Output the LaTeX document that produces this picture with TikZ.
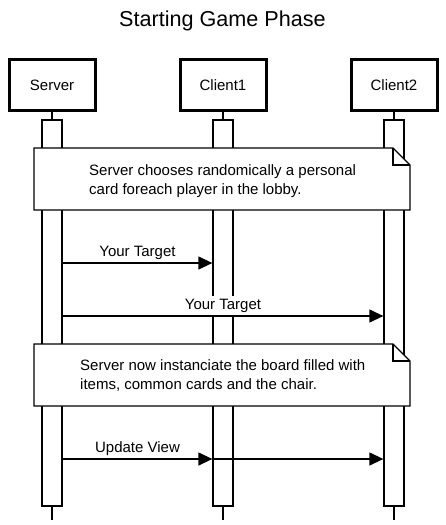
\documentclass[tikz,border=0pt]{standalone}
\usepackage{fontspec}
\setmainfont{Liberation Sans}
\usetikzlibrary{arrows.meta}
\tikzset{>={Triangle[length=14pt,width=13pt]}}
\tikzset{
  actor/.style={draw,line width=3pt,minimum width=86pt,minimum height=51pt,font=\fontsize{15}{18}\selectfont},
  lifeline/.style={line width=1.3pt},
  activebar/.style={draw,fill=white,line width=1.3pt,minimum width=20pt,minimum height=386pt,inner sep=0pt},
  notebox/.style={draw,fill=white,line width=1.3pt,line join=miter},
  notetext/.style={anchor=west,align=left,inner sep=0pt,font=\fontsize{15}{19}\selectfont},
  msg/.style={->,line width=1.3pt},
  msglabel/.style={above,fill=white,inner sep=3pt,font=\fontsize{15}{18}\selectfont}
}

\begin{document}
\begin{tikzpicture}[x=1pt,y=-1pt]
  \useasboundingbox (0,0) rectangle (446,525);

  \node[font=\fontsize{21.6}{26}\selectfont] (title) at (222.5,21) {Starting Game Phase};

  \node[actor] (server) at (52,85) {Server};
  \node[actor] (client1) at (223,85) {Client1};
  \node[actor] (client2) at (394,85) {Client2};

  \coordinate (serverend) at (52,520);
  \coordinate (client1end) at (223,520);
  \coordinate (client2end) at (394,520);
  \draw[lifeline] (server) -- (serverend);
  \draw[lifeline] (client1) -- (client1end);
  \draw[lifeline] (client2) -- (client2end);

  \node[activebar] (serverbar) at (52,313) {};
  \node[activebar] (client1bar) at (223,313) {};
  \node[activebar] (client2bar) at (394,313) {};

  % first note
  \draw[notebox] (34,148) -- (393,148) -- (410,165) -- (410,210) -- (34,210) -- cycle;
  \draw[lifeline] (393,148) -- (393,165) -- (410,165);
  \node[notetext] (choose) at (89,181) {Server chooses randomically a personal\\card foreach player in the lobby.};

  \draw[msg] ([yshift=50pt]serverbar.east) -- node[msglabel] (target1) {Your Target} ([yshift=50pt]client1bar.west);
  \draw[msg] ([yshift=-3pt]serverbar.east) -- node[msglabel] (target2) {Your Target} ([yshift=-3pt]client2bar.west);

  % second note
  \draw[notebox] (34,344) -- (393,344) -- (410,361) -- (410,406) -- (34,406) -- cycle;
  \draw[lifeline] (393,344) -- (393,361) -- (410,361);
  \node[notetext] (board) at (80,376) {Server now instanciate the board filled with\\items, common cards and the chair.};

  \draw[msg] ([yshift=-146pt]client1bar.west) -- ([yshift=-146pt]client2bar.west);
  \draw[msg] ([yshift=-146pt]serverbar.east) -- node[msglabel] (update) {Update View} ([yshift=-146pt]client1bar.west);
\end{tikzpicture}
\end{document}
